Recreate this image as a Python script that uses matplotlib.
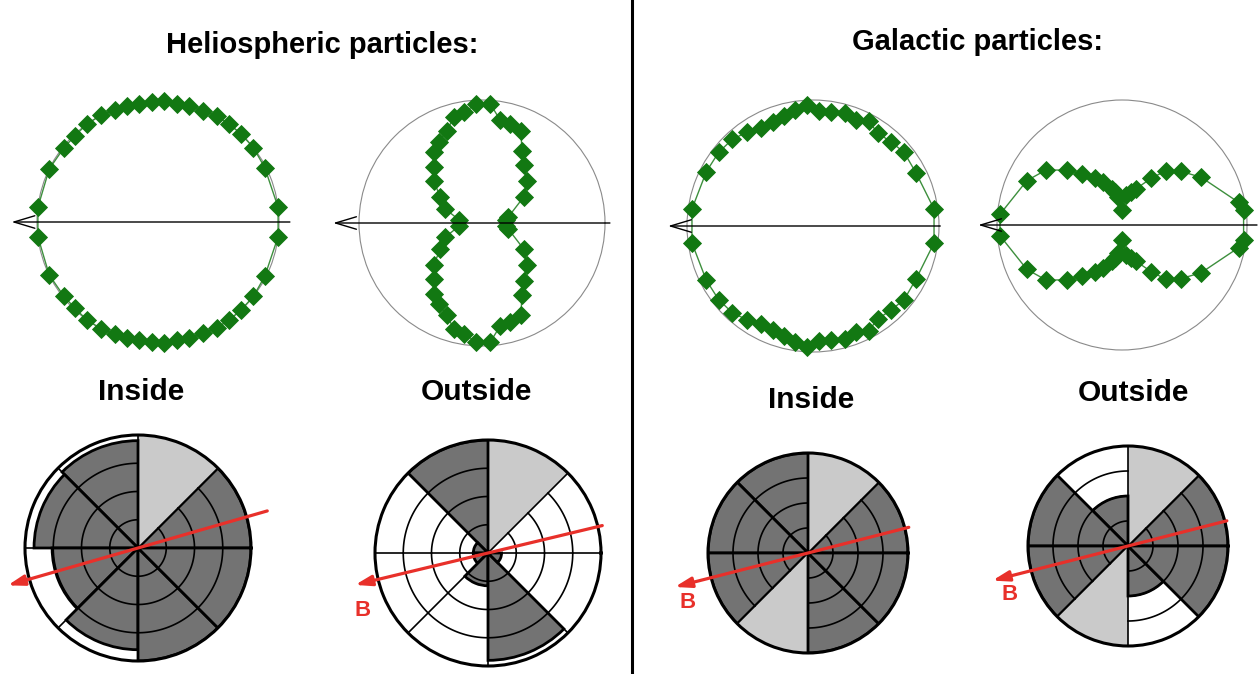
import numpy as np
import matplotlib
matplotlib.use("Agg")
import matplotlib.pyplot as plt
from matplotlib.lines import Line2D

plt.rcParams["font.family"] = ["Liberation Sans", "DejaVu Sans"]

W, H = 1258, 674

# pitch-angle distributions (upper half, degrees / relative intensity);
# the lower half is the mirror image, as usual for these plots
helio_in_theta = [7, 27, 38, 47, 54, 61, 68, 75, 81, 87, 93, 99, 105, 111, 118, 126, 134, 142, 154, 173]
helio_in_r = [1.0, 0.99, 1.0, 1.0, 1.0, 1.0, 0.99, 0.99, 0.99, 1.0, 0.99, 0.99, 0.99, 0.99, 1.0, 1.0, 0.99, 0.99, 1.0, 1.0]

helio_out_theta = [8, 13, 32, 43, 54, 61, 67, 74, 80, 86, 93, 99, 105, 111, 118, 124, 131, 139, 148, 159, 172]
helio_out_r = [0.20, 0.22, 0.40, 0.50, 0.58, 0.67, 0.81, 0.84, 0.85, 0.97, 0.97, 0.91, 0.89, 0.80, 0.75, 0.70, 0.60, 0.52, 0.40, 0.32, 0.19]

gal_in_theta = [8, 27, 39, 47, 55, 62, 68, 74, 81, 87, 93, 99, 105, 111, 118, 125, 133, 142, 153, 172]
gal_in_r = [0.97, 0.92, 0.93, 0.91, 0.90, 0.94, 0.91, 0.93, 0.92, 0.91, 0.96, 0.93, 0.90, 0.88, 0.88, 0.91, 0.94, 0.95, 0.95, 0.97]

gal_out_theta = [7, 11, 31, 42, 51, 58, 69, 75, 82, 90, 98, 102, 106, 114, 120, 128, 135, 144, 155, 175]
gal_out_r = [0.98, 0.95, 0.74, 0.64, 0.56, 0.44, 0.31, 0.27, 0.24, 0.12, 0.23, 0.27, 0.30, 0.38, 0.43, 0.52, 0.62, 0.75, 0.84, 0.98]

# sector diagrams: 8 sectors of 45 deg starting at east, counter-clockwise
sector_start = [0, 45, 90, 135, 180, 225, 270, 315]
ring_levels = [0.25, 0.5, 0.75]
disk1_color = ["d", "l", "d", "d", "d", "d", "d", "d"]
disk1_extent = [1.0, 1.0, 0.95, 0.92, 0.76, 0.9, 1.0, 1.0]
disk2_color = ["d", "l", "d", "d", "d", "d", "d", "d"]
disk2_extent = [0.0, 1.0, 1.0, 0.13, 0.13, 0.29, 0.95, 0.12]
disk3_color = ["d", "l", "d", "d", "d", "l", "d", "d"]
disk3_extent = [1.0, 1.0, 1.0, 1.0, 1.0, 1.0, 1.0, 1.0]
disk4_color = ["d", "l", "d", "d", "d", "l", "d", "d"]
disk4_extent = [1.0, 1.0, 0.5, 1.0, 1.0, 1.0, 0.5, 1.0]

GREEN = "#127812"
RED = "#e8302a"
DARK = "#737373"
LIGHT = "#cacaca"


def polar_at(fig, cx, cy, R):
    ax = fig.add_axes([(cx - R) / W, (H - cy - R) / H, 2 * R / W, 2 * R / H],
                      projection="polar")
    ax.set_xticks([])
    ax.set_yticks([])
    ax.grid(False)
    ax.set_ylim(0, 1)
    ax.patch.set_alpha(0)
    return ax


def pad_plot(fig, cx, cy, R, theta, r, r_right, r_left):
    ax = polar_at(fig, cx, cy, R)
    ax.spines["polar"].set_color("#8a8a8a")
    ax.spines["polar"].set_linewidth(0.8)
    th = np.radians(theta)
    th_all = np.concatenate([th, -th[::-1], th[:1]])
    r_all = np.concatenate([r, r[::-1], r[:1]])
    ax.plot(th_all, r_all, "-", color="#3d8f3d", lw=1, zorder=3, clip_on=False)
    ax.plot(th_all[:-1], r_all[:-1], "D", color=GREEN, ms=9, mec=GREEN,
            mew=0.6, zorder=4, clip_on=False)
    ax.annotate("", xy=(np.pi, r_left), xytext=(0, r_right),
                arrowprops=dict(arrowstyle="->,head_length=0.5,head_width=0.15",
                                color="black", lw=1, mutation_scale=30,
                                shrinkA=0, shrinkB=0),
                annotation_clip=False, zorder=5)
    return ax


def sector_disk(fig, cx, cy, R, colors, extents, b_angle, r_tail, r_head):
    ax = polar_at(fig, cx, cy, R)
    ax.spines["polar"].set_linewidth(2.2)
    ax.spines["polar"].set_color("black")
    width = np.pi / 4
    centers = np.radians(sector_start) + width / 2
    fills = [DARK if c == "d" else LIGHT for c in colors]
    for c, e, f in zip(centers, extents, fills):
        if e > 0:
            ax.bar(c, e, width=width, bottom=0, color=f,
                   edgecolor="black" if f == DARK else f,
                   linewidth=2.0 if f == DARK else 0, zorder=2)
    # rings everywhere except on the light sectors
    for s, col in zip(sector_start, colors):
        if col == "l":
            continue
        arc = np.radians(np.linspace(s, s + 45, 30))
        for lev in ring_levels:
            ax.plot(arc, np.full_like(arc, lev), color="black", lw=1.2, zorder=3)
    for s in sector_start:
        ax.plot([np.radians(s)] * 2, [0, 1], color="black", lw=1.2, zorder=3)
    a = np.radians(b_angle)
    ax.annotate("", xy=(a + np.pi, r_head), xytext=(a, r_tail),
                arrowprops=dict(arrowstyle="-|>,head_length=0.7,head_width=0.22",
                                color=RED, lw=2.3, mutation_scale=14,
                                shrinkA=0, shrinkB=0),
                annotation_clip=False, zorder=6)
    return ax


fig = plt.figure(figsize=(W / 100, H / 100), dpi=100)
fig.patch.set_facecolor("white")

pad_plot(fig, 158, 222, 121, helio_in_theta, np.array(helio_in_r), 1.09, 1.21)
pad_plot(fig, 482, 223, 123, helio_out_theta, np.array(helio_out_r), 1.04, 1.21)
pad_plot(fig, 813, 226, 126, gal_in_theta, np.array(gal_in_r), 1.01, 1.15)
pad_plot(fig, 1122, 225, 125, gal_out_theta, np.array(gal_out_r), 1.08, 1.15)

sector_disk(fig, 138, 548, 113, disk1_color, disk1_extent, 16, 1.19, 1.20)
sector_disk(fig, 488, 553, 113, disk2_color, disk2_extent, 13.5, 1.04, 1.21)
sector_disk(fig, 808, 553, 100, disk3_color, disk3_extent, 14.3, 1.04, 1.375)
sector_disk(fig, 1128, 546, 100, disk4_color, disk4_extent, 14.3, 1.02, 1.40)


def ftext(x, y, s, **kw):
    fig.text(x / W, 1 - y / H, s, ha="center", va="center", **kw)


ftext(322, 45, "Heliospheric particles:", fontsize=21, fontweight="bold")
ftext(977, 42, "Galactic particles:", fontsize=21, fontweight="bold")
ftext(141, 392, "Inside", fontsize=21.5, fontweight="bold")
ftext(476, 392, "Outside", fontsize=21.5, fontweight="bold")
ftext(811, 400, "Inside", fontsize=21.5, fontweight="bold")
ftext(1133, 393, "Outside", fontsize=21.5, fontweight="bold")
ftext(363, 610, "B", fontsize=16, fontweight="bold", color=RED)
ftext(688, 602, "B", fontsize=16, fontweight="bold", color=RED)
ftext(1010, 595, "B", fontsize=16, fontweight="bold", color=RED)

fig.add_artist(Line2D([632 / W, 632 / W], [0, 1], color="black", lw=2.2))

fig.savefig("out.png", dpi=100)
